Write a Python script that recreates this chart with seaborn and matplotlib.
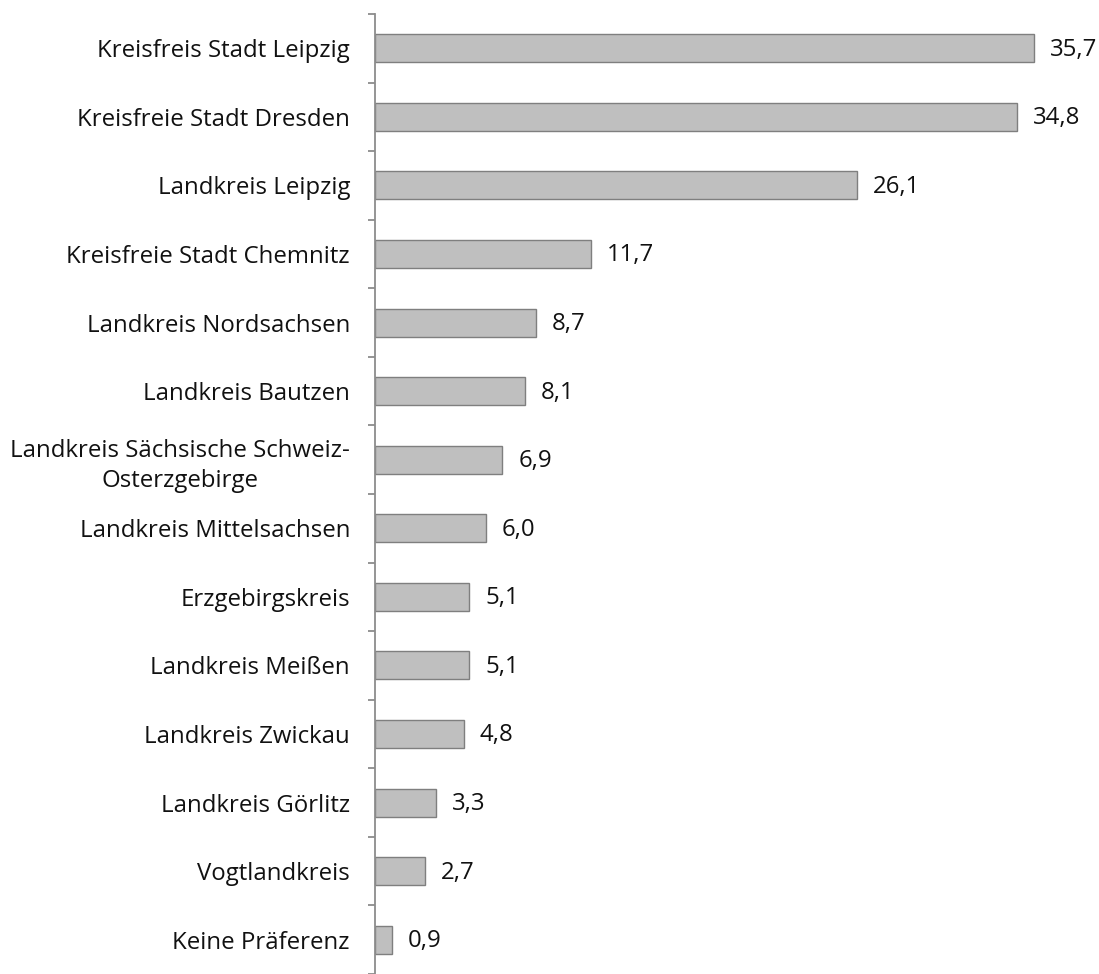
import matplotlib.pyplot as plt
import seaborn as sns
import pandas as pd

regions = [
    'Kreisfreis Stadt Leipzig',
    'Kreisfreie Stadt Dresden',
    'Landkreis Leipzig',
    'Kreisfreie Stadt Chemnitz',
    'Landkreis Nordsachsen',
    'Landkreis Bautzen',
    'Landkreis Sächsische Schweiz-\nOsterzgebirge',
    'Landkreis Mittelsachsen',
    'Erzgebirgskreis',
    'Landkreis Meißen',
    'Landkreis Zwickau',
    'Landkreis Görlitz',
    'Vogtlandkreis',
    'Keine Präferenz',
]
values = [35.7, 34.8, 26.1, 11.7, 8.7, 8.1, 6.9, 6.0, 5.1, 5.1, 4.8, 3.3, 2.7, 0.9]

df = pd.DataFrame({'Region': regions, 'Wert': values})

sns.set_style('white')
plt.rcParams['font.family'] = ['Open Sans', 'DejaVu Sans']

fig = plt.figure(figsize=(10.99, 9.74), dpi=100)
ax = fig.add_axes([375 / 1099, 0, 724 / 1099, 960 / 974])

sns.barplot(data=df, x='Wert', y='Region', orient='h', color='#BFBFBF',
            edgecolor='#7F7F7F', linewidth=1, width=0.41, saturation=1, ax=ax)

ax.set_xlim(0, 724 / 18.46)
ax.set_ylim(len(regions) - 0.5, -0.5)

for i, v in enumerate(values):
    ax.annotate(f'{v:.1f}'.replace('.', ','), xy=(v, i), xytext=(11.5, -1),
                textcoords='offset points', ha='left', va='center',
                fontsize=17.3, color='#111111')

sns.despine(ax=ax, top=True, right=True, bottom=True, left=False)
ax.spines['left'].set_color('#8C8C8C')
ax.spines['left'].set_linewidth(1.3)
ax.set_xticks([])
ax.set_xlabel('')
ax.set_ylabel('')

ax.set_yticks([i - 0.5 for i in range(len(regions) + 1)], minor=True)
ax.tick_params(axis='y', which='minor', length=5, width=1.3, color='#8C8C8C', left=True)
ax.tick_params(axis='y', which='major', length=0, pad=18, labelsize=17.3, labelcolor='#111111')
for lbl in ax.get_yticklabels():
    lbl.set_multialignment('center')
    lbl.set_linespacing(1.35)

fig.savefig('out.png', dpi=100)
